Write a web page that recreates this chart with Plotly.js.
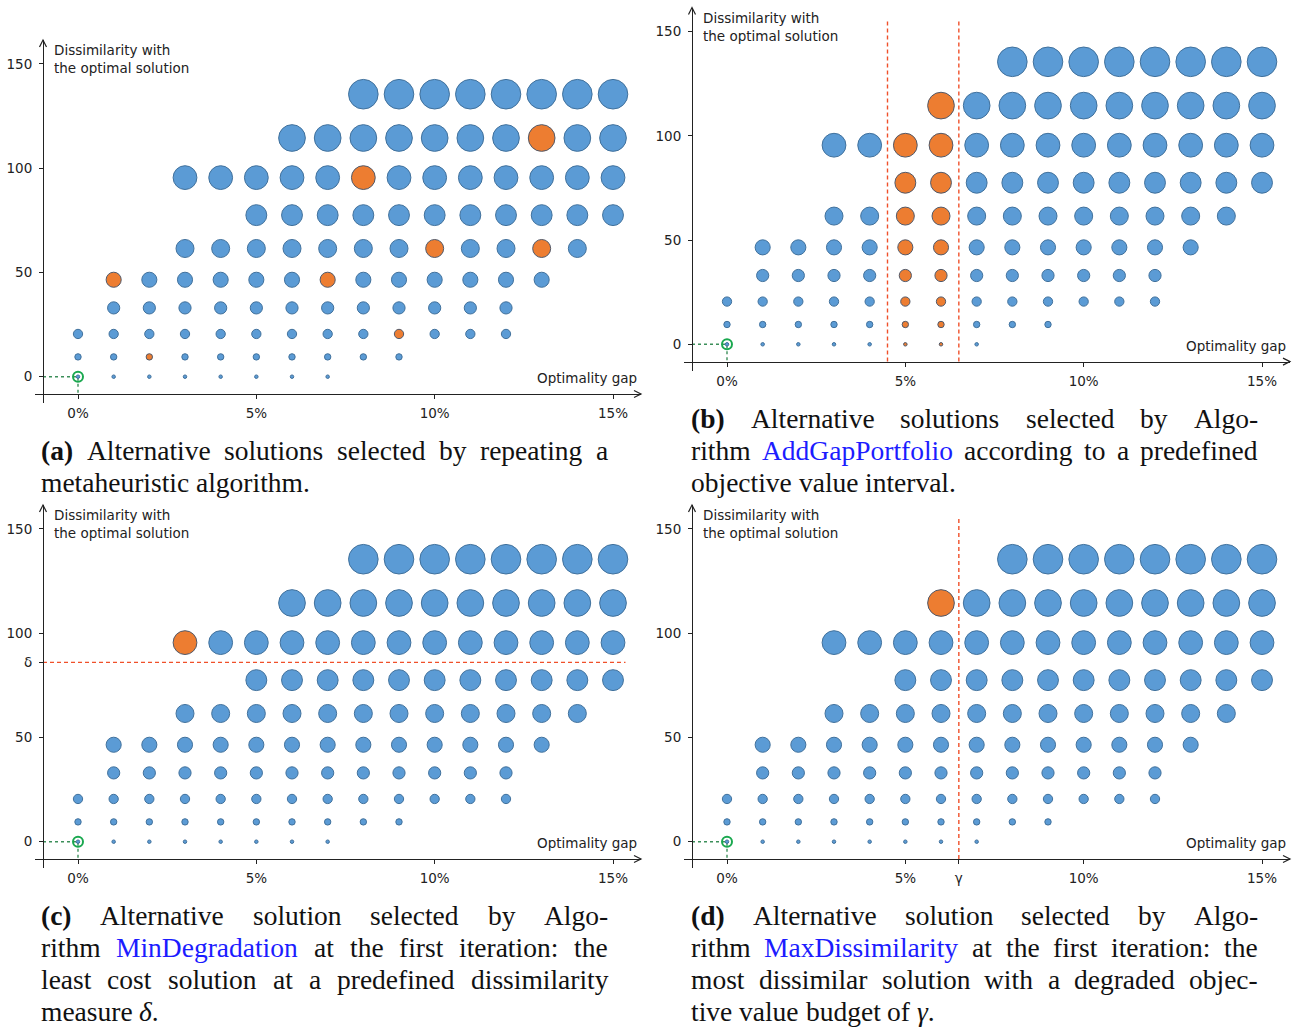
<!DOCTYPE html>
<html><head><meta charset="utf-8">
<script src="https://cdn.plot.ly/plotly-3.0.1.min.js"></script>
<style>html,body{margin:0;padding:0;background:#fff}#chart{width:1300px;height:1028px}</style>
</head><body><div id="chart"></div>
<script>
// ================= DATA =================
const gapTicks = [0, 5, 10, 15];                 // optimality gap, %
const dissimTicks = [0, 50, 100, 150];
// dissimilarity levels (rows) and the gaps (%) of the solutions found at each level
const dissimLevels = [0, 9.5, 20.5, 33, 46.5, 61.5, 77.5, 95.5, 114.5, 135.5];
const solutionGaps = [
  [0, 1, 2, 3, 4, 5, 6, 7],
  [0, 1, 2, 3, 4, 5, 6, 7, 8, 9],
  [0, 1, 2, 3, 4, 5, 6, 7, 8, 9, 10, 11, 12],
  [1, 2, 3, 4, 5, 6, 7, 8, 9, 10, 11, 12],
  [1, 2, 3, 4, 5, 6, 7, 8, 9, 10, 11, 12, 13],
  [3, 4, 5, 6, 7, 8, 9, 10, 11, 12, 13, 14],
  [5, 6, 7, 8, 9, 10, 11, 12, 13, 14, 15],
  [3, 4, 5, 6, 7, 8, 9, 10, 11, 12, 13, 14, 15],
  [6, 7, 8, 9, 10, 11, 12, 13, 14, 15],
  [8, 9, 10, 11, 12, 13, 14, 15]
];
const optimalGap = [0];
const optimalDissim = [0];
// selected alternative solutions per panel
const selectedA_gap = [2, 9, 1, 7, 10, 13, 8, 13];
const selectedA_dissim = [9.5, 20.5, 46.5, 46.5, 61.5, 61.5, 95.5, 114.5];
const selectedB_gap = [5, 6, 5, 6, 5, 6, 5, 6, 5, 6, 5, 6, 5, 6, 5, 6, 6];
const selectedB_dissim = [0, 0, 9.5, 9.5, 20.5, 20.5, 33, 33, 46.5, 46.5, 61.5, 61.5, 77.5, 77.5, 95.5, 95.5, 114.5];
const selectedC_gap = [3];
const selectedC_dissim = [95.5];
const selectedD_gap = [6];
const selectedD_dissim = [114.5];
// thresholds
const gapIntervalB = [4.5, 6.5];
const deltaC = 86;
const gammaD = 6.5;
const thresholdTop = 155.5;
const deltaLineEnd = 15.35;

const captionA = ['<b>(a)</b> Alternative solutions selected by repeating a', 'metaheuristic algorithm.'];
const captionB = ['<b>(b)</b> Alternative solutions selected by Algo-', 'rithm <c>AddGapPortfolio</c> according to a predefined', 'objective value interval.'];
const captionC = ['<b>(c)</b> Alternative solution selected by Algo-', 'rithm <c>MinDegradation</c> at the first iteration: the', 'least cost solution at a predefined dissimilarity', 'measure <i>δ</i>.'];
const captionD = ['<b>(d)</b> Alternative solution selected by Algo-', 'rithm <c>MaxDissimilarity</c> at the first iteration: the', 'most dissimilar solution with a degraded objec-', 'tive value budget of <i>γ</i>.'];

// ================= STYLE / GEOMETRY =================
const W = 1300, H = 1028;
const KX = 35.667, KY = 2.0847;          // px per % and px per dissimilarity unit
const OX = 78, OY = 376.7;               // pixel of (0,0) in panel a
const DOM = {l: 35, r: 641, t: 40, b: 403};
const AXPX = {x: 43, y: 394};            // axis crossing pixel
const xRange = [(DOM.l - OX) / KX, (DOM.r - OX) / KX];
const yRange = [-(DOM.b - OY) / KY, (OY - DOM.t) / KY];
const axX = (AXPX.x - OX) / KX, axY = -(AXPX.y - OY) / KY;
const BLUE = '#5b9bd5', BLUE_EDGE = '#41719c', ORANGE = '#ed7d31', ORANGE_EDGE = '#50596a';
const GREEN = '#1aa84f', RED = '#f0502a', INK = '#222';
const SANS = 'DejaVu Sans';
const markerDiameter = i => 3.5 + 2.9 * i;

const panels = [
  {s: '',  dx: 0,   dy: 0,     selG: selectedA_gap, selD: selectedA_dissim},
  {s: '2', dx: 649, dy: -32.4, selG: selectedB_gap, selD: selectedB_dissim},
  {s: '3', dx: 0,   dy: 465,   selG: selectedC_gap, selD: selectedC_dissim},
  {s: '4', dx: 649, dy: 465,   selG: selectedD_gap, selD: selectedD_dissim}
];

const traces = [];
const layout = {
  width: W, height: H, margin: {l: 0, r: 0, t: 0, b: 0},
  paper_bgcolor: '#fff', plot_bgcolor: 'rgba(0,0,0,0)', showlegend: false,
  annotations: [], shapes: [], hovermode: false
};

panels.forEach((p, pi) => {
  const xa = 'x' + p.s, ya = 'y' + p.s;
  const tickfont = {family: SANS, size: 13.5, color: INK};
  let xtv = gapTicks.slice(), xtt = gapTicks.map(v => v + '%');
  let ytv = dissimTicks.slice(), ytt = dissimTicks.map(String);
  if (pi === 2) { ytv = [0, 50, deltaC, 100, 150]; ytt = ['0', '50', 'δ', '100', '150']; }
  if (pi === 3) { xtv = [0, 5, gammaD, 10, 15]; xtt = ['0%', '5%', 'γ', '10%', '15%']; }
  layout['xaxis' + p.s] = {
    domain: [(DOM.l + p.dx) / W, (DOM.r + p.dx) / W], range: xRange,
    anchor: 'free', position: 1 - (AXPX.y + p.dy) / H,
    showline: true, linecolor: INK, linewidth: 1.2, ticks: 'outside', ticklen: 4, tickwidth: 1, tickcolor: INK,
    tickvals: xtv, ticktext: xtt, tickfont, showgrid: false, zeroline: false, fixedrange: true, ticklabelstandoff: 3
  };
  layout['yaxis' + p.s] = {
    domain: [1 - (DOM.b + p.dy) / H, 1 - (DOM.t + p.dy) / H], range: yRange,
    anchor: 'free', position: (AXPX.x + p.dx) / W,
    showline: true, linecolor: INK, linewidth: 1.2, ticks: 'outside', ticklen: 4, tickwidth: 1, tickcolor: INK,
    tickvals: ytv, ticktext: ytt, tickfont, showgrid: false, zeroline: false, fixedrange: true, ticklabelstandoff: 4
  };
  // arrow heads
  layout.shapes.push({type: 'path', xref: 'paper', yref: 'paper', xsizemode: 'pixel', ysizemode: 'pixel',
    xanchor: (DOM.r + p.dx) / W, yanchor: 1 - (AXPX.y + p.dy) / H, path: 'M -7 -3.5 L 0 0 L -7 3.5',
    line: {color: INK, width: 1.2}});
  layout.shapes.push({type: 'path', xref: 'paper', yref: 'paper', xsizemode: 'pixel', ysizemode: 'pixel',
    xanchor: (AXPX.x + p.dx) / W, yanchor: 1 - (DOM.t + p.dy) / H, path: 'M -3.5 -7 L 0 0 L 3.5 -7',
    line: {color: INK, width: 1.2}});
  // axis titles
  layout.annotations.push({xref: 'paper', yref: 'paper', x: (53 + p.dx) / W, y: 1 - (59 + p.dy) / H,
    xanchor: 'left', yanchor: 'middle', align: 'left', showarrow: false, borderpad: 0,
    text: 'Dissimilarity with<br>the optimal solution', font: {family: SANS, size: 13.5, color: INK}});
  layout.annotations.push({xref: 'paper', yref: 'paper', x: (638 + p.dx) / W, y: 1 - (378 + p.dy) / H,
    xanchor: 'right', yanchor: 'middle', showarrow: false, borderpad: 0,
    text: 'Optimality gap', font: {family: SANS, size: 13.5, color: INK}});

  // guide from axes to optimal solution
  traces.push({type: 'scatter', mode: 'lines', xaxis: xa, yaxis: ya, x: [axX, optimalGap[0], optimalGap[0]],
    y: [optimalDissim[0], optimalDissim[0], axY], line: {color: '#3c8f5a', width: 1.4, dash: 'dot'}, hoverinfo: 'skip'});

  // thresholds
  if (pi === 1) gapIntervalB.forEach(g => traces.push({type: 'scatter', mode: 'lines', xaxis: xa, yaxis: ya,
    x: [g, g], y: [axY, thresholdTop], line: {color: RED, width: 1.4, dash: '4px,3px'}, hoverinfo: 'skip'}));
  if (pi === 2) traces.push({type: 'scatter', mode: 'lines', xaxis: xa, yaxis: ya,
    x: [axX, deltaLineEnd], y: [deltaC, deltaC], line: {color: RED, width: 1.4, dash: '4px,3px'}, hoverinfo: 'skip'});
  if (pi === 3) traces.push({type: 'scatter', mode: 'lines', xaxis: xa, yaxis: ya,
    x: [gammaD, gammaD], y: [axY, thresholdTop], line: {color: RED, width: 1.4, dash: '4px,3px'}, hoverinfo: 'skip'});

  // all solutions (not selected)
  const selKey = new Set(p.selG.map((g, k) => g + '|' + p.selD[k]));
  const bx = [], by = [], bs = [];
  dissimLevels.forEach((lev, i) => solutionGaps[i].forEach(g => {
    if (!selKey.has(g + '|' + lev)) { bx.push(g); by.push(lev); bs.push(markerDiameter(i)); }
  }));
  traces.push({type: 'scatter', mode: 'markers', xaxis: xa, yaxis: ya, x: bx, y: by, hoverinfo: 'skip',
    marker: {color: BLUE, opacity: 1, size: bs, line: {color: BLUE_EDGE, width: 1}}});
  // selected solutions
  traces.push({type: 'scatter', mode: 'markers', xaxis: xa, yaxis: ya, x: p.selG, y: p.selD, hoverinfo: 'skip',
    marker: {color: ORANGE, opacity: 1, size: p.selD.map(d => markerDiameter(dissimLevels.indexOf(d))),
      line: {color: ORANGE_EDGE, width: 1}}});
  // optimal solution ring
  traces.push({type: 'scatter', mode: 'markers', xaxis: xa, yaxis: ya, x: optimalGap, y: optimalDissim, hoverinfo: 'skip',
    marker: {symbol: 'circle-open', size: 10, opacity: 1, color: GREEN, line: {color: GREEN, width: 2}}});
});

// ================= CAPTIONS (justified) =================
const CAP_SIZE = 27.5, CAP_FONT = 'Liberation Serif', CAP_W = 567, CAP_LH = 32;
const cv = document.createElement('canvas').getContext('2d');
function parseWord(w) {
  const segs = []; const re = /<(b|i|c)>(.*?)<\/(?:b|i|c)>|([^<]+)/g; let m;
  while ((m = re.exec(w))) {
    if (m[3] !== undefined) segs.push({t: m[3]}); else segs.push({t: m[2], [m[1]]: true});
  }
  return segs;
}
function segWidth(s) {
  cv.font = (s.i ? 'italic ' : '') + (s.b ? 'bold ' : '') + CAP_SIZE + 'px "' + CAP_FONT + '"';
  return cv.measureText(s.t).width;
}
function segHtml(s) {
  if (s.b) return '<b>' + s.t + '</b>';
  if (s.i) return '<i>' + s.t + '</i>';
  if (s.c) return '<span style="color:#1c1cff">' + s.t + '</span>';
  return s.t;
}
cv.font = CAP_SIZE + 'px "' + CAP_FONT + '"';
const spaceW = cv.measureText(' ').width;
function addCaption(lines, left, top) {
  lines.forEach((line, li) => {
    const words = line.split(' ').map(parseWord);
    const widths = words.map(ws => ws.reduce((a, s) => a + segWidth(s), 0));
    const total = widths.reduce((a, b) => a + b, 0);
    const last = li === lines.length - 1;
    const gap = last || words.length < 2 ? spaceW : (CAP_W - total) / (words.length - 1);
    let x = left;
    words.forEach((ws, k) => {
      layout.annotations.push({xref: 'paper', yref: 'paper', x: x / W, y: 1 - (top + li * CAP_LH) / H,
        xanchor: 'left', yanchor: 'middle', showarrow: false, borderpad: 0,
        text: ws.map(segHtml).join(''), font: {family: CAP_FONT, size: CAP_SIZE, color: '#111'}});
      x += widths[k] + gap;
    });
  });
}
addCaption(captionA, 40, 450.5);
addCaption(captionB, 690, 418.5);
addCaption(captionC, 40, 915.5);
addCaption(captionD, 690, 915.5);

Plotly.newPlot('chart', traces, layout, {staticPlot: true, displayModeBar: false});
</script></body></html>
